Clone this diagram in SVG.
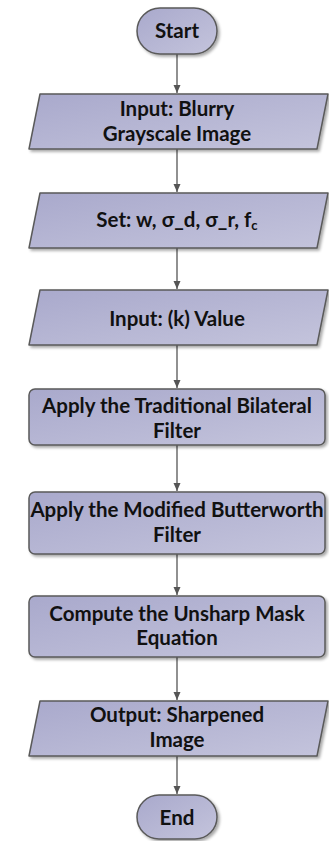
<svg xmlns="http://www.w3.org/2000/svg" width="329" height="841" viewBox="0 0 329 841">
  <defs>
    <linearGradient id="fillGrad" x1="0" y1="0" x2="1" y2="1">
      <stop offset="0" stop-color="#a9a9cc"/>
      <stop offset="1" stop-color="#c4c4dc"/>
    </linearGradient>
    <filter id="shadow" x="-10%" y="-20%" width="125%" height="150%">
      <feGaussianBlur in="SourceAlpha" stdDeviation="1.5"/>
      <feOffset dx="2" dy="2" result="b"/>
      <feComponentTransfer><feFuncA type="linear" slope="0.35"/></feComponentTransfer>
      <feMerge><feMergeNode/><feMergeNode in="SourceGraphic"/></feMerge>
    </filter>
    <marker id="arrow" markerWidth="9" markerHeight="8" refX="8" refY="4" orient="auto" markerUnits="userSpaceOnUse">
      <path d="M0,0.5 L8,4 L0,7.5 Z" fill="#555"/>
    </marker>
  </defs>
  <style>
    .shape { fill: url(#fillGrad); stroke: #5a5a5a; stroke-width: 1.5; stroke-linejoin: round; filter: url(#shadow); }
    .label { font-family: Lato, "Open Sans", "Liberation Sans", sans-serif; font-weight: bold; font-size: 20.5px; fill: #111; text-anchor: middle; }
    .conn { stroke: #555; stroke-width: 1.3; fill: none; marker-end: url(#arrow); }
  </style>

  <g id="connectors">
    <line class="conn" x1="177" y1="54" x2="177" y2="93"/>
    <line class="conn" x1="177" y1="149" x2="177" y2="192"/>
    <line class="conn" x1="177" y1="248" x2="177" y2="289"/>
    <line class="conn" x1="177" y1="345" x2="177" y2="388"/>
    <line class="conn" x1="177" y1="445" x2="177" y2="491"/>
    <line class="conn" x1="177" y1="554" x2="177" y2="595"/>
    <line class="conn" x1="177" y1="657" x2="177" y2="700"/>
    <line class="conn" x1="177" y1="756" x2="177" y2="794"/>
  </g>

  <g id="start">
    <rect class="shape" x="137" y="8" width="80" height="46" rx="23"/>
    <text class="label" x="177" y="38">Start</text>
  </g>

  <g id="input-image">
    <polygon class="shape" points="40,94 328,94 317,149 29,149"/>
    <text class="label" x="177" y="116">Input: Blurry</text>
    <text class="label" x="177" y="141">Grayscale Image</text>
  </g>

  <g id="set-params">
    <polygon class="shape" points="40,193 328,193 317,248 29,248"/>
    <text class="label" x="177" y="227">Set: w, σ_d, σ_r, f<tspan font-size="13" dy="3">c</tspan></text>
  </g>

  <g id="input-k">
    <polygon class="shape" points="40,290 328,290 317,345 29,345"/>
    <text class="label" x="177" y="326">Input: (k) Value</text>
  </g>

  <g id="bilateral">
    <rect class="shape" x="29" y="389" width="296" height="56" rx="6"/>
    <text class="label" x="177" y="413">Apply the Traditional Bilateral</text>
    <text class="label" x="177" y="438">Filter</text>
  </g>

  <g id="butterworth">
    <rect class="shape" x="29" y="492" width="296" height="62" rx="6"/>
    <text class="label" x="177" y="517">Apply the Modified Butterworth</text>
    <text class="label" x="177" y="542">Filter</text>
  </g>

  <g id="unsharp">
    <rect class="shape" x="29" y="596" width="296" height="61" rx="6"/>
    <text class="label" x="177" y="621">Compute the Unsharp Mask</text>
    <text class="label" x="177" y="645">Equation</text>
  </g>

  <g id="output">
    <polygon class="shape" points="40,701 328,701 317,756 29,756"/>
    <text class="label" x="177" y="722">Output: Sharpened</text>
    <text class="label" x="177" y="747">Image</text>
  </g>

  <g id="end">
    <rect class="shape" x="137" y="795" width="80" height="44" rx="22"/>
    <text class="label" x="177" y="825">End</text>
  </g>
</svg>
